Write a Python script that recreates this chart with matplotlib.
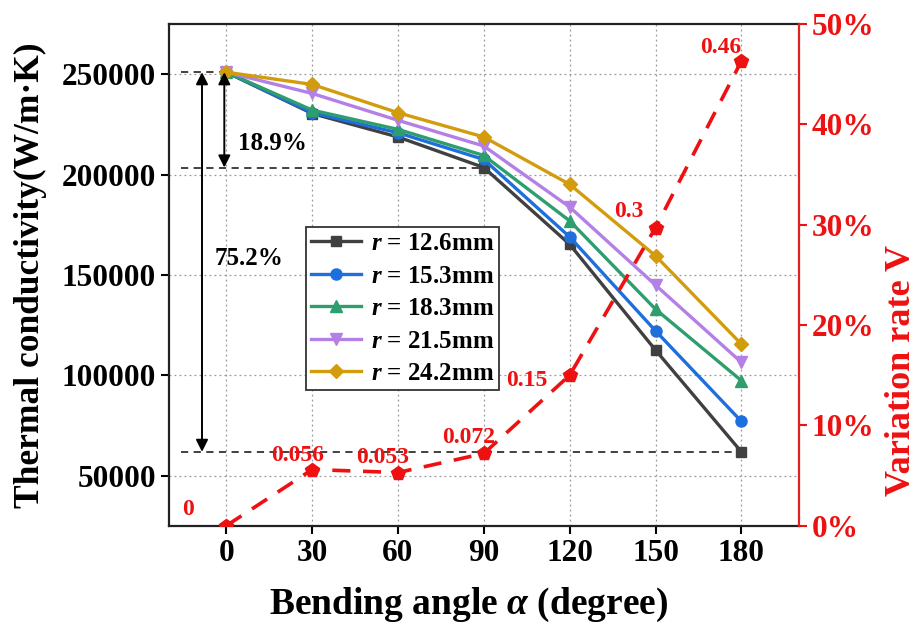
import numpy as np
import matplotlib
matplotlib.use("Agg")
import matplotlib.pyplot as plt
from matplotlib.ticker import FuncFormatter

plt.rcParams['font.family'] = ['Liberation Serif', 'DejaVu Serif']
plt.rcParams['font.weight'] = 'bold'
plt.rcParams['mathtext.fontset'] = 'custom'
plt.rcParams['mathtext.it'] = 'Liberation Serif:italic:bold'
plt.rcParams['mathtext.rm'] = 'Liberation Serif:bold'

# data
angles = [0, 30, 60, 90, 120, 150, 180]
radii = ["12.6", "15.3", "18.3", "21.5", "24.2"]
k_126 = [251000, 230400, 218700, 203500, 165200, 112500, 61800]
k_153 = [251000, 230800, 220800, 207500, 168900, 122100, 77000]
k_183 = [251000, 232100, 222500, 209500, 176900, 132900, 97300]
k_215 = [251000, 240400, 227000, 214200, 183800, 144900, 106400]
k_242 = [251000, 244900, 230800, 218700, 195100, 159500, 115500]
rate = [0, 0.056, 0.053, 0.072, 0.15, 0.297, 0.463]
rate_labels = ["0", "0.056", "0.053", "0.072", "0.15", "0.3", "0.46"]

series = [k_126, k_153, k_183, k_215, k_242]
colors = ['#404040', '#1e6fdc', '#2e9e6e', '#b480e6', '#d39c0c']
markers = ['s', 'o', '^', 'v', 'D']
msizes = [7, 8, 8, 8, 7]

fig = plt.figure(figsize=(9.19, 6.24), dpi=100)
ax = fig.add_axes([0.184, 0.1575, 0.685, 0.804])

for vals, r, c, m, ms in zip(series, radii, colors, markers, msizes):
    ax.plot(angles, vals, color=c, marker=m, markersize=ms, lw=2.4,
            label=f"$r$ = {r}mm", zorder=3)

ax.set_xlim(-20, 200)
ax.set_ylim(25000, 275000)
ax.set_xticks(angles)
ax.set_yticks([50000, 100000, 150000, 200000, 250000])
ax.grid(True, color='#999999', lw=0.9, ls=(0, (1.5, 2.5)))
ax.tick_params(labelsize=22.5, width=1.5, length=6, direction='out')
for s in ['left', 'bottom', 'top']:
    ax.spines[s].set_linewidth(1.6)
    ax.spines[s].set_color('#222222')
ax.spines['right'].set_visible(False)
ax.set_xlabel(r"Bending angle $\alpha$ (degree)", fontsize=27, fontweight='bold')
ax.xaxis.set_label_coords(0.475, -0.12)
ax.set_ylabel("Thermal conductivity(W/m·K)", fontsize=25.5, fontweight='bold')
ax.yaxis.set_label_coords(-0.194, 0.5)

# reference dashed lines and arrows
for yv, xe in [(k_126[0], 0), (k_126[3], 90), (k_126[6], 180)]:
    ax.plot([-16, xe], [yv, yv], color='#333333', lw=1.3, ls=(0, (4, 3)), zorder=2)
ax.annotate("", xy=(-0.7, k_126[3]), xytext=(-0.7, k_126[0]),
            arrowprops=dict(arrowstyle='<|-|>', color='black', lw=1.4, mutation_scale=18,
                            shrinkA=0, shrinkB=0))
ax.annotate("", xy=(-8.5, k_126[6]), xytext=(-8.5, k_126[0]),
            arrowprops=dict(arrowstyle='<|-|>', color='black', lw=1.4, mutation_scale=18,
                            shrinkA=0, shrinkB=0))
ax.text(4.0, 215600, "18.9%", fontsize=18, fontweight='bold', va='center')
ax.text(-4, 158000, "75.2%", fontsize=18, fontweight='bold', va='center')

leg = ax.legend(loc='upper left', bbox_to_anchor=(0.217, 0.595), fontsize=18,
                frameon=True, fancybox=False, edgecolor='#333333', framealpha=1,
                handlelength=2.0, labelspacing=0.38, borderpad=0.2, handletextpad=0.4,
                borderaxespad=0)
leg.get_frame().set_linewidth(1.3)

# variation rate on the right axis
ax2 = ax.twinx()
ax2.plot(angles, rate, color='#ee1111', lw=2.6, ls=(0, (5, 3.5)), marker='p',
         markersize=10, zorder=4)
ax2.set_ylim(0, 0.5)
ax2.set_yticks([0, 0.1, 0.2, 0.3, 0.4, 0.5])
ax2.yaxis.set_major_formatter(FuncFormatter(lambda v, p: f"{v*100:.0f}%"))
ax2.tick_params(labelsize=22.5, width=1.5, length=6, colors='#ee1111', direction='out')
ax2.spines['right'].set_color('#dd2222')
ax2.spines['right'].set_linewidth(1.6)
for s in ['left', 'bottom', 'top']:
    ax2.spines[s].set_visible(False)
ax2.set_ylabel("Variation rate V", fontsize=26, fontweight='bold', color='#ee1111')
ax2.yaxis.set_label_coords(1.137, 0.31)

label_pos = [(-13.3, 0.016), (24.8, 0.070), (54.5, 0.0675), (84.6, 0.0875),
             (105, 0.145), (140.5, 0.313), (172.7, 0.477)]
for (lx, ly), t in zip(label_pos, rate_labels):
    ax2.text(lx, ly, t, color='#ee1111', fontsize=17, fontweight='bold',
             ha='center', va='center')

fig.savefig("out.png", dpi=100)
